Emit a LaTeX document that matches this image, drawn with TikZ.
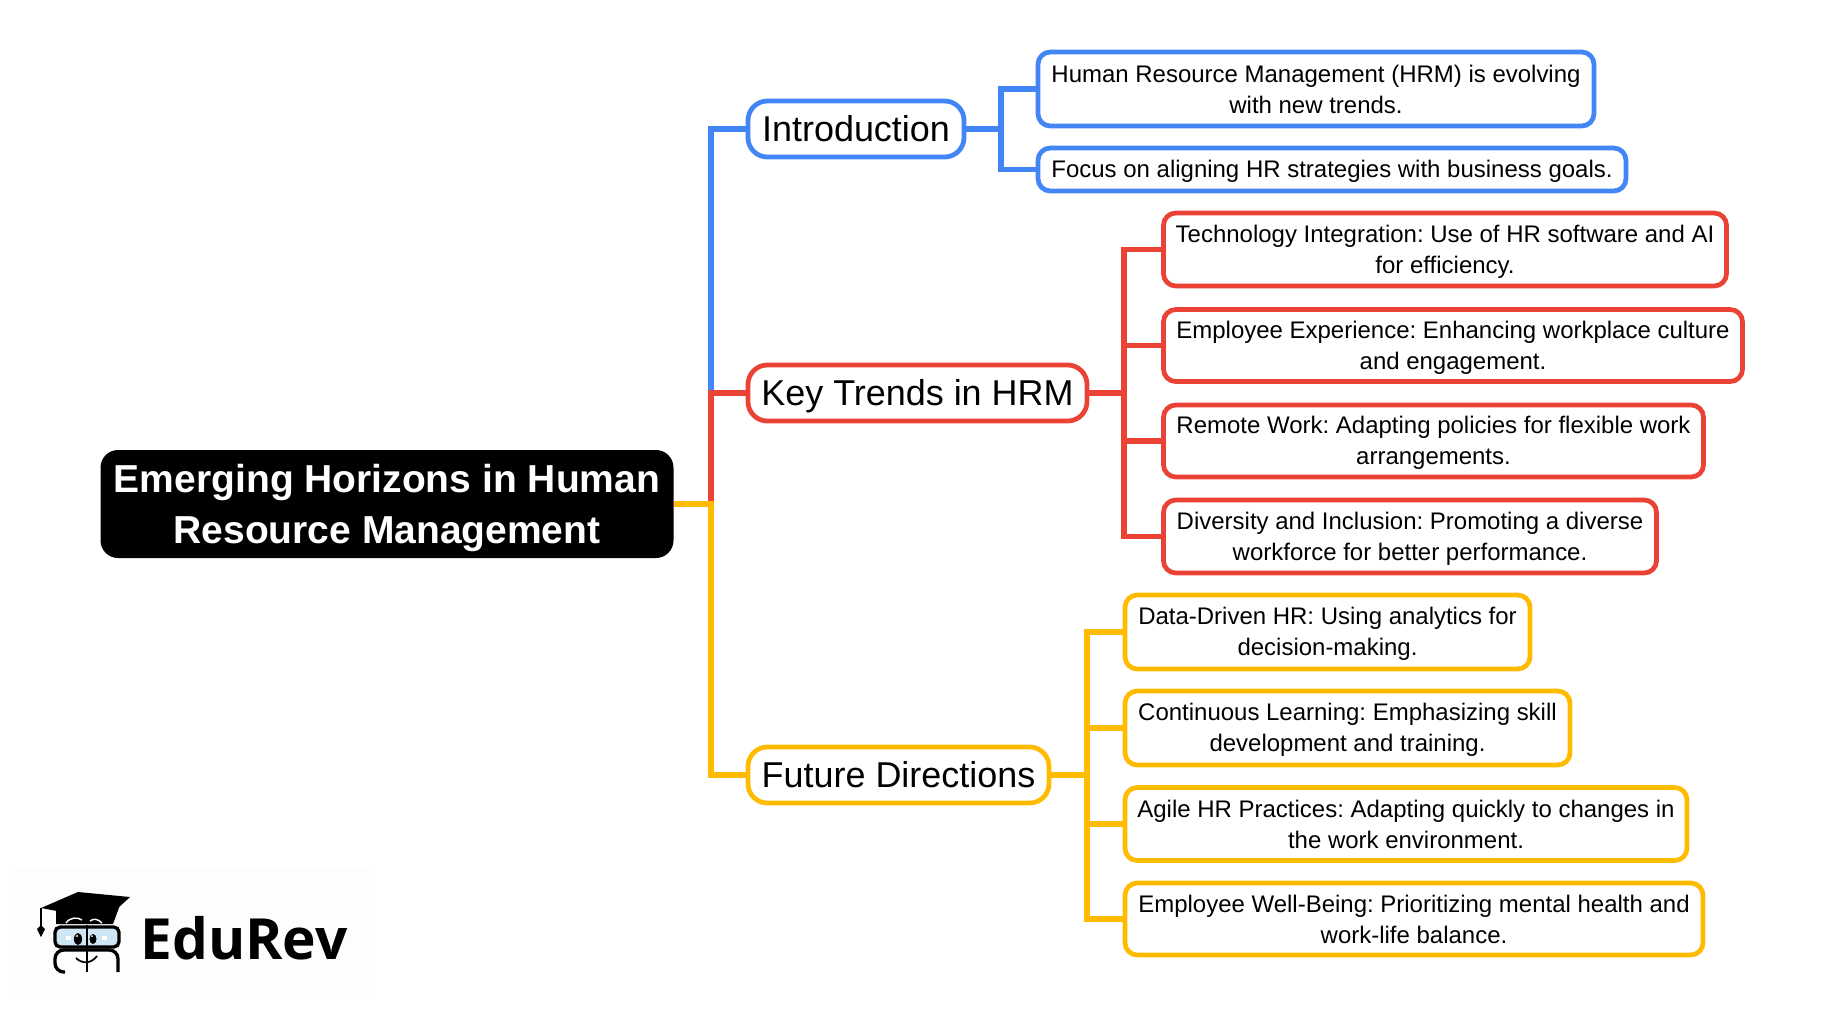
\documentclass[tikz,border=0pt]{standalone}
\usepackage{fontspec}
\setmainfont{Liberation Sans}
\newfontfamily\logofont{Open Sans}
\frenchspacing
\usetikzlibrary{positioning, calc, shapes.geometric}

\begin{document}
\begin{tikzpicture}[x=0.02cm, y=-0.02cm,
    box/.style={draw=#1, fill=white, line width=2.7pt, outer sep=0pt, inner sep=0pt, anchor=west, align=center},
    boxw/.style={minimum width=#1*0.02cm},
    boxh/.style={minimum height=#1*0.02cm},
    topic/.style={box=#1, rounded corners=11pt, minimum height=56*0.02cm, font=\fontsize{20.45}{24}\selectfont, execute at begin node={\rule[-4.3pt]{0pt}{23pt}}},
    leafone/.style={box=#1, rounded corners=7pt, font=\fontsize{13.65}{17.6}\selectfont, execute at end node={\rule[-2.6pt]{0pt}{1pt}}},
    leaf/.style={leafone=#1, execute at begin node={\rule{0pt}{30pt}}},
    link/.style={line width=3.1pt, line join=miter}]
    % Define colours
    \definecolor{myblue}{RGB}{66, 133, 244}
    \definecolor{myred}{RGB}{234, 67, 53}
    \definecolor{myyellow}{RGB}{255, 187, 0}
    \definecolor{mylens}{RGB}{207, 230, 245}
    \definecolor{mypaper}{RGB}{253, 253, 253}

    \useasboundingbox (0,0) rectangle (1846,1009);

    % 1. Root and the three topics
    \node[fill=black, text=white, rounded corners=10pt, outer sep=0pt, inner sep=0pt, align=center, minimum width=573*0.02cm, minimum height=108*0.02cm, font=\fontsize{22.2}{28.7}\selectfont\bfseries, execute at begin node={\rule{0pt}{49.7pt}}, execute at end node={\rule[-5.2pt]{0pt}{1pt}}] (root) at (387,504) {Emerging Horizons in Human\\Resource Management};
    \node[topic=myblue, boxw=216] (intro) at (748,129) {Introduction};
    \node[topic=myred, boxw=339] (trends) at (748,393) {Key Trends in HRM};
    \node[topic=myyellow, boxw=301] (future) at (748,775) {Future Directions};

    % 2. Introduction leaves
    \node[leaf=myblue, boxw=556, boxh=74] (introa) at (1038,89) {Human Resource Management (HRM) is evolving\\with new trends.};
    \node[leafone=myblue, boxw=588, boxh=43, execute at begin node={\rule{0pt}{12.4pt}}] (introb) at (1038,169.5) {Focus on aligning HR strategies with business goals.};

    % 3. Key trends leaves
    \node[leaf=myred, boxw=563, boxh=73] (trenda) at (1163.5,249.5) {Technology Integration: Use of HR software and AI\\for efficiency.};
    \node[leaf=myred, boxw=579, boxh=72] (trendb) at (1163.5,345.5) {Employee Experience: Enhancing workplace culture\\and engagement.};
    \node[leaf=myred, boxw=540, boxh=72] (trendc) at (1163.5,441) {Remote Work: Adapting policies for flexible work\\arrangements.};
    \node[leaf=myred, boxw=493, boxh=73] (trendd) at (1163.5,536.5) {Diversity and Inclusion: Promoting a diverse\\workforce for better performance.};

    % 4. Future direction leaves
    \node[leaf=myyellow, boxw=405, boxh=74] (futurea) at (1125,632) {Data-Driven HR: Using analytics for\\decision-making.};
    \node[leaf=myyellow, boxw=445, boxh=74] (futureb) at (1125,728) {Continuous Learning: Emphasizing skill\\development and training.};
    \node[leaf=myyellow, boxw=562, boxh=73] (futurec) at (1125,824) {Agile HR Practices: Adapting quickly to changes in\\the work environment.};
    \node[leaf=myyellow, boxw=578, boxh=72] (futured) at (1125,919) {Employee Well-Being: Prioritizing mental health and\\work-life balance.};

    % 5. Connectors (later colours lie over earlier ones)
    \coordinate (trunk) at (711,504);
    \coordinate (introbus) at (1001,129);
    \coordinate (trendbus) at (1124,393);
    \coordinate (futurebus) at (1087,775);

    \draw[link, myblue] (root.east) -- (trunk) |- (intro.west);
    \draw[link, myblue] (intro.east) -- (introbus);
    \foreach \leafname in {introa, introb} {
        \draw[link, myblue] (introbus) |- (\leafname.west);
    }
    \draw[link, myred] (root.east) -- (trunk) |- (trends.west);
    \draw[link, myred] (trends.east) -- (trendbus);
    \foreach \leafname in {trenda, trendb, trendc, trendd} {
        \draw[link, myred] (trendbus) |- (\leafname.west);
    }
    \draw[link, myyellow] (root.east) -- (trunk) |- (future.west);
    \draw[link, myyellow] (future.east) -- (futurebus);
    \foreach \leafname in {futurea, futureb, futurec, futured} {
        \draw[link, myyellow] (futurebus) |- (\leafname.west);
    }

    % 6. Logo
    \fill[mypaper] (10,867) rectangle (375,993);
    \node[anchor=base west, inner sep=0pt, font=\fontsize{32.3}{33}\selectfont\logofont\bfseries] (brand) at (140,959) {EduRev};
    \fill[black] (56,905) -- (56,924) -- (113,924) -- (120,905) -- cycle;
    \fill[black] (78,892) -- (130,897) -- (105,920) -- (41,908) -- cycle;
    \draw[white, line width=0.8pt] (66,923) .. controls (70,917) and (78,917) .. (82,920);
    \draw[white, line width=0.8pt] (90,921) .. controls (94,918) and (98,919) .. (102,923);
    \draw[black, line width=1pt] (41,908) -- (41,927);
    \fill[black] (41,937) -- (37,929) -- (41,925) -- (45,929) -- cycle;
    \draw[black, line width=1.9pt, fill=mylens, rounded corners=3pt] (55,927) rectangle (119,947);
    \draw[black, line width=1.9pt, rounded corners=5pt] (65,972) -- (55,972) -- (55,950) -- (118,950) -- (118,972);
    \draw[black, line width=1.6pt] (87,925) -- (87,972);
    \fill[black] (78,939) ellipse [x radius=4, y radius=6];
    \fill[black] (93,939) ellipse [x radius=3.5, y radius=5];
    \fill[white] (77,936) circle [radius=1.2];
    \fill[white] (92,936) circle [radius=1];
    \fill[white] (66,936) rectangle (71,940);
    \fill[white] (102,936) rectangle (107,940);
    \draw[black, line width=1pt] (76,958) .. controls (82,964) and (91,964) .. (97,956);
\end{tikzpicture}
\end{document}
